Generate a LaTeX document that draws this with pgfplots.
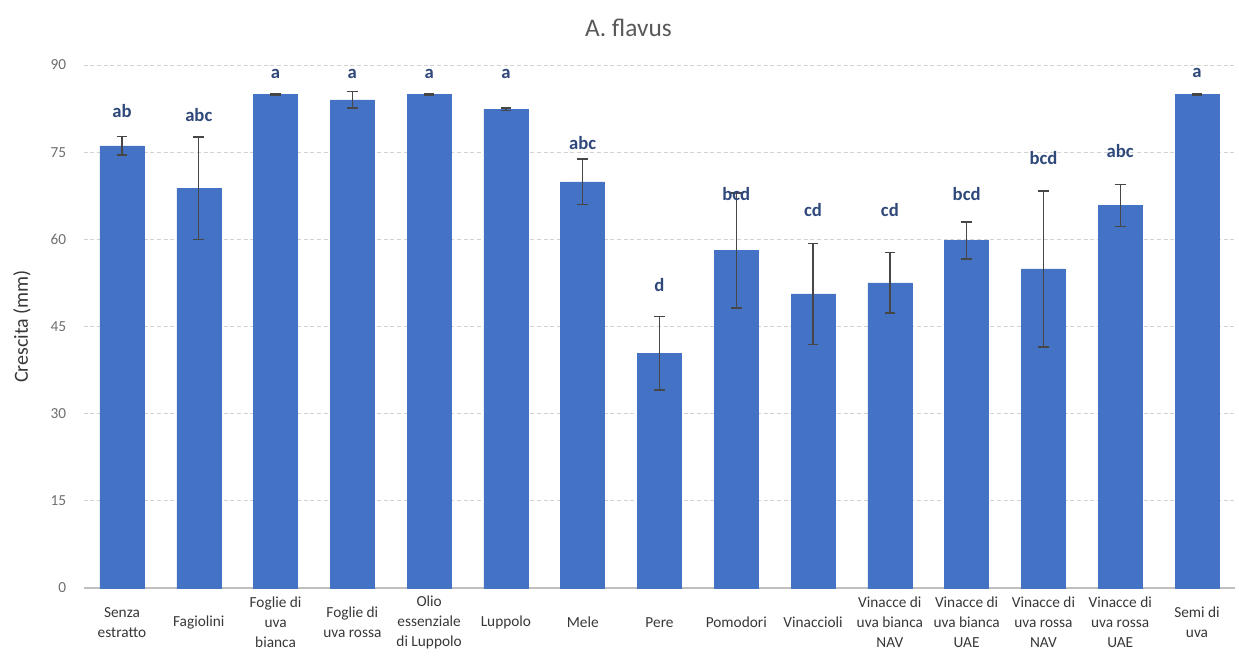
\documentclass[border=0pt]{standalone}
\usepackage{fontspec}
\setmainfont{Carlito}
\usepackage{pgfplots}
\usepackage{pgfplotstable}
\pgfplotsset{compat=1.18}

\definecolor{barblue}{RGB}{68,114,196}
\definecolor{letterblue}{RGB}{47,72,122}
\definecolor{errgray}{RGB}{70,70,70}
\definecolor{gridgray}{RGB}{210,210,210}
\definecolor{axisgray}{RGB}{191,191,191}
\definecolor{ticktext}{RGB}{110,110,110}
\definecolor{cattext}{RGB}{55,55,55}
\definecolor{titlegray}{RGB}{89,89,89}

% growth (mm), standard error, and significance letters with their heights
\pgfplotstableread{
x  y     e     lab  ly
0  76.1  1.6   ab   82.1
1  68.8  8.8   abc  81.4
2  85.0  0.15  a    88.5
3  84.0  1.4   a    88.5
4  85.0  0.15  a    88.5
5  82.4  0.2   a    88.5
6  69.9  3.9   abc  76.6
7  40.4  6.3   d    52.2
8  58.1  9.9   bcd  67.8
9  50.6  8.7   cd   65.0
10 52.5  5.2   cd   65.0
11 59.8  3.2   bcd  67.8
12 54.9  13.4  bcd  74.0
13 65.8  3.6   abc  75.2
14 85.0  0.15  a    88.7
}\growth

\begin{document}
\begin{tikzpicture}
\useasboundingbox (-62.7pt,-54.75pt) rectangle (866.55pt,441pt);
\begin{axis}[
  at={(0,0)}, anchor=south west,
  scale only axis,
  width=863.85pt, height=392.25pt,
  xmin=-0.5, xmax=14.5,
  ymin=0, ymax=90,
  enlarge y limits=false,
  clip=false,
  ytick={0,15,...,90},
  xtick=data,
  xticklabels={
    {Senza\\estratto},
    {Fagiolini},
    {Foglie di\\uva\\bianca},
    {Foglie di\\uva rossa},
    {Olio\\essenziale\\di Luppolo},
    {Luppolo},
    {Mele},
    {Pere},
    {Pomodori},
    {Vinaccioli},
    {Vinacce di\\uva bianca\\NAV},
    {Vinacce di\\uva bianca\\UAE},
    {Vinacce di\\uva rossa\\NAV},
    {Vinacce di\\uva rossa\\UAE},
    {Semi di\\uva}},
  xticklabel style={align=center, anchor=center, yshift=-26pt,
    font=\fontsize{11.5}{15}\selectfont, text=cattext},
  yticklabel style={anchor=east, xshift=-9.5pt,
    font=\fontsize{11.5}{13}\selectfont, text=ticktext},
  /pgf/number format/assume math mode=true,
  major tick length=0pt,
  tick style={draw=none},
  axis lines=left,
  axis line style={-},
  y axis line style={draw=none},
  x axis line style={draw=axisgray, line width=0.9pt},
  ymajorgrids,
  grid style={draw=gridgray, line width=0.7pt, dash pattern=on 3pt off 2pt},
  title={A. flavus},
  title style={at={(0.473,1)}, anchor=center, yshift=21.75pt,
    font=\fontsize{19}{21}\selectfont, text=titlegray},
  ylabel={Crescita (mm)},
  ylabel style={at={(rel axis cs:0,0.5)}, anchor=center, yshift=46.2pt,
    font=\fontsize{15}{17}\selectfont, text=cattext},
]
\addplot[ybar, bar width=33pt, fill=barblue, draw=barblue,
  error bars/.cd, y dir=both, y explicit,
  error bar style={draw=errgray, line width=1pt},
  error mark options={rotate=90, draw=errgray, line width=1pt, mark size=4pt}]
  table[x=x, y=y, y error=e] {\growth};
\addplot[only marks, mark=none, nodes near coords,
  point meta=explicit symbolic,
  nodes near coords style={anchor=center, text=letterblue,
    font=\fontsize{14}{16}\selectfont\bfseries}]
  table[x=x, y=ly, meta=lab] {\growth};
\end{axis}
\end{tikzpicture}
\end{document}
